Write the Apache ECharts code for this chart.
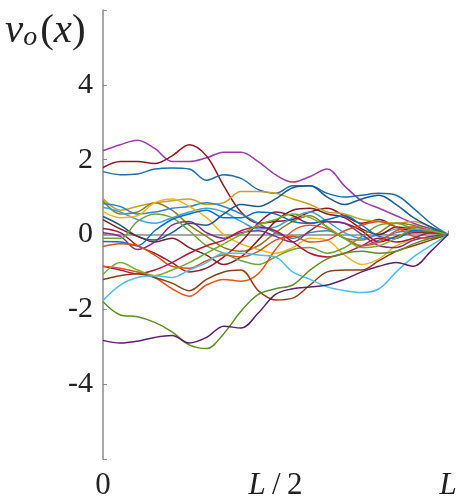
<!DOCTYPE html>
<html>
<head>
<meta charset="utf-8">
<script src="https://cdn.jsdelivr.net/npm/echarts@6/dist/echarts.min.js"></script>
<style>
html,body{margin:0;padding:0;background:#fff;}
#chart{width:462px;height:504px;}
</style>
</head>
<body>
<div id="chart"></div>
<script>
// x positions (fraction of L)
const xs = [0,0.05,0.1,0.15,0.2,0.25,0.3,0.35,0.4,0.45,0.5,0.55,0.6,0.65,0.7,0.75,0.8,0.85,0.9,0.95,1];
const yTicks = [-4,-2,0,2,4];

const purpleTop   = [2.24,2.4,2.52,2.3,1.95,1.95,2.05,2.2,2.2,1.95,1.6,1.4,1.55,1.75,1.3,0.9,0.7,0.5,0.3,0.15,0];
const darkRed     = [1.79,1.95,1.95,1.9,2.1,2.4,2.1,1.3,0.6,0.3,0.35,0.4,0.6,0.7,0.5,0.3,0.4,0.2,0.1,0.1,0];
const blueTop     = [1.68,1.6,1.62,1.75,1.78,1.75,1.45,1.6,1.5,1.2,1.1,1.3,1.3,1.1,1.0,1.05,1.1,1.05,0.7,0.3,0];
const gold        = [0.96,0.65,0.75,0.85,0.9,0.95,0.8,0.85,1.15,1.15,1.1,0.95,0.8,0.6,0.55,0.4,0.35,0.3,0.35,0.2,0];
const olive       = [0.9,0.55,0.6,0.85,0.65,0.25,-0.05,-0.35,-0.45,-0.3,0.05,0.35,0.5,0.2,-0.1,-0.15,0.05,0.3,0.25,0.1,0];
const teal        = [0.83,0.75,0.55,0.6,0.7,0.75,0.85,0.75,0.55,0.3,0.05,-0.1,0.05,0.1,-0.1,-0.3,-0.15,0.05,0.1,0.1,0];
const lightBlue2  = [0.73,0.6,0.4,0.3,0.45,0.6,0.7,0.6,0.35,0.15,0.2,0.45,0.6,0.35,0.05,-0.1,0.0,0.15,0.2,0.1,0];
const yellow      = [0.61,0.45,0.5,0.85,0.95,0.75,0.45,0.0,-0.25,-0.4,-0.5,-0.35,-0.1,-0.15,-0.55,-0.8,-0.65,-0.3,-0.15,-0.05,0];
const navy        = [0.48,0.25,-0.05,-0.15,0.05,0.3,0.25,0.55,0.8,0.75,0.95,1.25,1.3,1.0,0.8,0.95,1.05,0.8,0.45,0.2,0];
const maroon      = [0.4,0.15,-0.05,-0.2,-0.1,-0.35,-0.55,-0.8,-0.6,-0.15,0.35,0.65,0.7,0.55,0.45,0.15,0.0,0.2,0.15,0.05,0];
const darkRed2    = [0.16,0.05,-0.3,-0.5,-0.75,-1.0,-0.9,-0.6,-0.2,0.3,0.6,0.5,0.3,0.35,0.3,0.1,-0.2,-0.05,0.05,0.05,0];
const purpleMid   = [0.05,-0.05,-0.4,-0.2,0.25,0.35,0.05,-0.1,0.05,0.1,-0.05,-0.2,0.1,0.35,0.3,0.0,-0.3,-0.35,-0.15,-0.05,0];
const greenMid    = [-0.1,-0.1,0.35,0.55,0.45,0.1,-0.3,-0.5,-0.7,-0.8,-0.6,-0.4,-0.35,-0.5,-0.35,-0.05,0.25,0.3,0.15,0.05,0];
const blueMid     = [-0.19,-0.2,-0.3,0.1,0.4,0.55,0.65,0.45,0.45,0.6,0.55,0.35,0.3,0.4,0.5,0.25,-0.05,-0.1,0.1,0.1,0];
const orangeMid   = [-0.32,-0.25,-0.3,-0.55,-0.85,-0.9,-0.7,-0.55,-0.6,-0.45,-0.15,-0.05,-0.2,-0.15,0.1,0.25,0.35,0.2,-0.05,-0.1,0];
const crimson     = [-0.85,-0.95,-1.05,-0.95,-0.75,-0.5,-0.3,-0.15,0.1,0.2,0.1,-0.2,-0.5,-0.6,-0.5,-0.3,-0.1,-0.2,-0.1,0.05,0];
const orangeLow   = [-0.85,-0.9,-1.0,-1.15,-1.45,-1.65,-1.35,-1.2,-1.25,-1.05,-0.4,0.1,0.25,0.15,-0.1,-0.3,-0.2,0.1,0.2,0.1,0];
const lightGreen  = [-1.07,-0.75,-0.95,-1.1,-0.95,-0.75,-0.5,-0.25,0,0.25,0.4,0.55,0.45,0.2,-0.1,-0.35,-0.3,-0.1,0.15,0.1,0];
const brown       = [-1.2,-1.1,-1.05,-1.15,-1.3,-1.5,-1.2,-1.0,-0.95,-1.5,-1.75,-1.7,-1.35,-1.0,-0.95,-0.95,-0.7,-0.45,-0.3,-0.15,0];
const lightBlue   = [-1.76,-1.35,-1.15,-1.1,-1.15,-0.95,-0.75,-0.5,-0.5,-0.55,-0.6,-1.0,-1.2,-1.4,-1.5,-1.55,-1.45,-1.0,-0.6,-0.3,0];
const greenLow    = [-1.8,-2.15,-2.2,-2.35,-2.6,-2.95,-3.05,-2.65,-2.05,-1.6,-1.45,-1.35,-0.95,-0.65,-0.5,-0.45,-0.5,-0.45,-0.25,-0.1,0];
const purpleLow   = [-2.83,-2.9,-2.85,-2.75,-2.7,-2.9,-2.75,-2.45,-2.5,-2.1,-1.6,-1.45,-1.4,-1.35,-1.2,-1.0,-0.85,-0.75,-0.85,-0.45,0];

const seriesList = [
  [purpleTop,'#9A3CAE'],[darkRed,'#8C1A24'],[blueTop,'#1F6EA6'],[gold,'#C9A126'],
  [olive,'#8A7F1F'],[teal,'#2F86C3'],[lightBlue2,'#3BA6D9'],[yellow,'#F0B323'],
  [navy,'#1C5A8A'],[maroon,'#7A1E2C'],[darkRed2,'#9B1C2E'],[purpleMid,'#7E2F8E'],
  [greenMid,'#6FA23A'],[blueMid,'#0072BD'],[orangeMid,'#D95319'],[crimson,'#B5173A'],
  [orangeLow,'#E0561B'],[lightGreen,'#77AC30'],[brown,'#8B3F17'],[lightBlue,'#4DBEEE'],
  [greenLow,'#5E8F26'],[purpleLow,'#5C1F6B']
];

const chart = echarts.init(document.getElementById('chart'));
const serif = 'Liberation Serif';
chart.setOption({
  animation: false,
  grid: {left: 103, right: 14, top: 10, bottom: 45},
  xAxis: {
    type: 'value', min: 0, max: 1, interval: 0.5,
    axisLine: {show: true, lineStyle: {color: '#8a8a8a', width: 1.5}},
    axisTick: {show: true, inside: true, length: 4, lineStyle: {color: '#8a8a8a'}},
    splitLine: {show: false},
    axisLabel: {
      margin: 11, fontFamily: serif, fontSize: 31, color: '#222',
      formatter: v => v === 0 ? '0' : (v === 0.5 ? '{i|L}\u2009/\u20092' : '{i|L}'),
      rich: {i: {fontStyle: 'italic', fontFamily: serif, fontSize: 31, color: '#222'}}
    }
  },
  yAxis: {
    type: 'value', min: -6, max: 6, interval: 2,
    axisLine: {show: true, lineStyle: {color: '#8a8a8a', width: 1.5}},
    axisTick: {show: true, inside: true, length: 4, lineStyle: {color: '#8a8a8a'}},
    splitLine: {show: false},
    axisLabel: {
      margin: 10, fontFamily: serif, fontSize: 30, color: '#222',
      formatter: v => yTicks.includes(v) ? String(v) : ''
    }
  },
  graphic: [{
    type: 'text', left: 5, top: 11,
    style: {
      text: '{v|v}{s|o}{p|(}{v|x}{p|)}',
      rich: {
        v: {fontFamily: serif, fontStyle: 'italic', fontSize: 41, fill: '#222', verticalAlign: 'bottom'},
        s: {fontFamily: serif, fontStyle: 'italic', fontSize: 28, fill: '#222', verticalAlign: 'bottom', padding: [0,3,0,0]},
        p: {fontFamily: serif, fontSize: 41, fill: '#222', verticalAlign: 'bottom'}
      }
    }
  }],
  series: seriesList.map(([vals, col]) => ({
    type: 'line', smooth: 0.35, symbol: 'none',
    data: xs.map((x, i) => [x, vals[i]]),
    lineStyle: {color: col, width: 1.5},
    itemStyle: {color: col}
  }))
});
</script>
</body>
</html>
